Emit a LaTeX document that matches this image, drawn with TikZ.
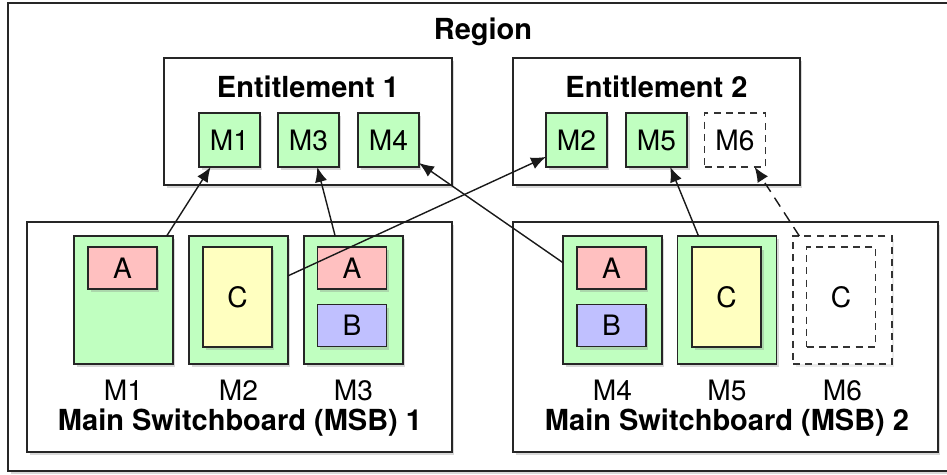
\documentclass[tikz,border=0pt]{standalone}
\usepackage{fontspec}
\setmainfont{TeX Gyre Heros}
\usetikzlibrary{arrows.meta,shadows}

\definecolor{meterfill}{RGB}{192,255,192}
\definecolor{chanA}{RGB}{255,192,192}
\definecolor{chanB}{RGB}{192,192,255}
\definecolor{chanC}{RGB}{255,255,192}

\tikzset{
	boxed/.style={draw=black!85,line width=0.8pt,inner sep=0pt,outer sep=0pt,
		drop shadow={shadow xshift=0.05cm,shadow yshift=-0.06cm,opacity=0.3}},
	groupbox/.style={boxed,fill=white},
	smallmeter/.style={boxed,fill=meterfill,minimum width=1.22cm,minimum height=1.08cm,font=\fontsize{16}{18}\selectfont},
	bigmeter/.style={boxed,fill=meterfill,minimum width=1.98cm,minimum height=2.56cm},
	chan/.style={boxed,minimum width=1.38cm,minimum height=0.84cm,font=\fontsize{16}{18}\selectfont},
	chanlong/.style={boxed,fill=chanC,minimum width=1.38cm,minimum height=2.0cm,font=\fontsize{16}{18}\selectfont},
	ghost/.style={draw=black!80,dashed,dash pattern=on 4pt off 3pt,line width=0.8pt,inner sep=0pt,outer sep=0pt,fill=white},
	title/.style={font=\bfseries\fontsize{16.5}{20}\selectfont,inner sep=0pt},
	plain/.style={font=\fontsize{16}{18}\selectfont,inner sep=0pt},
	link/.style={-{Latex[length=8.5pt,width=7pt]},line width=0.8pt,black!90}
}

\begin{document}
\begin{tikzpicture}[x=0.02cm,y=-0.02cm]
	\useasboundingbox (0,0) rectangle (947,474);
	
	% Region
	\node[groupbox,minimum width=18.88cm,minimum height=9.36cm] (region) at (480,237) {};
	\node[title] (regiontitle) at (483,32) {Region};
	
	% Entitlements
	\node[groupbox,minimum width=5.76cm,minimum height=2.54cm] (ent1) at (308,121.5) {};
	\node[title] (ent1title) at (308,87) {Entitlement 1};
	\node[groupbox,minimum width=5.74cm,minimum height=2.54cm] (ent2) at (656.5,121.5) {};
	\node[title] (ent2title) at (656.5,87) {Entitlement 2};
	
	\node[smallmeter] (em1) at (229.5,140) {M1};
	\node[smallmeter] (em3) at (308.5,140) {M3};
	\node[smallmeter] (em4) at (388.5,140) {M4};
	\node[smallmeter] (em2) at (576.5,140) {M2};
	\node[smallmeter] (em5) at (656.5,140) {M5};
	\node[ghost,minimum width=1.22cm,minimum height=1.08cm,font=\fontsize{16}{18}\selectfont] (em6) at (735,140) {M6};
	
	% Main switchboards
	\node[groupbox,minimum width=8.5cm,minimum height=4.6cm] (msb1) at (239.5,337) {};
	\node[groupbox,minimum width=8.5cm,minimum height=4.6cm] (msb2) at (725.5,337) {};
	
	\node[bigmeter] (m1) at (123.5,300) {};
	\node[bigmeter] (m2) at (238.5,300) {};
	\node[bigmeter] (m3) at (353.5,300) {};
	\node[bigmeter] (m4) at (612.5,300) {};
	\node[bigmeter] (m5) at (727,300) {};
	\node[ghost,minimum width=1.98cm,minimum height=2.56cm,
		drop shadow={shadow xshift=0.05cm,shadow yshift=-0.06cm,opacity=0.15}] (m6) at (842.5,300) {};
	
	\node[chan,fill=chanA] (m1a) at (122.5,268) {A};
	\node[chanlong] (m2c) at (237.5,297) {C};
	\node[chan,fill=chanA] (m3a) at (352,268) {A};
	\node[chan,fill=chanB] (m3b) at (352,325.5) {B};
	\node[chan,fill=chanA] (m4a) at (611.5,268) {A};
	\node[chan,fill=chanB] (m4b) at (611.5,325.5) {B};
	\node[chanlong] (m5c) at (726.5,297) {C};
	\node[ghost,minimum width=1.38cm,minimum height=2.0cm,font=\fontsize{16}{18}\selectfont] (m6c) at (841,297) {C};
	
	\foreach \name/\x in {1/123.5,2/238.5,3/353.5,4/612.5,5/727,6/842.5}{% meter names below
		\node[plain] (lab\name) at (\x,390) {M\name};
	}
	
	\node[title] (msb1title) at (240,423) {Main Switchboard (MSB) 1};
	\node[title] (msb2title) at (727,423) {Main Switchboard (MSB) 2};
	
	% Assignments
	\draw[link] (m1.56) -- (em1.-125);
	\draw[link] (m3.106) -- (em3.-72);
	\draw[link] (m2.26) -- (em2.-151);
	\draw[link] (m4.143) -- (em4.-37);
	\draw[link] (m5.114) -- (em5.-63);
	\draw[link,dashed,dash pattern=on 6pt off 4pt] (m6.124) -- (em6.-54);
	
\end{tikzpicture}
\end{document}
